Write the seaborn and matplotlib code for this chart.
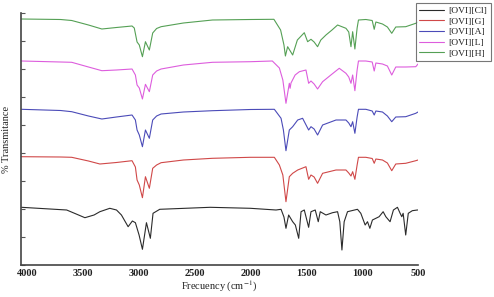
import matplotlib
matplotlib.use("Agg")
import matplotlib.pyplot as plt
import seaborn as sns
import pandas as pd
from matplotlib.lines import Line2D

# Series names (legend order) and colours
series_names = ["[OVI][Cl]", "[OVI][G]", "[OVI][A]", "[OVI][L]", "[OVI][H]"]
series_colors = ["#2b2b2b", "#d04848", "#4b4bb8", "#dd5ddd", "#55a055"]

# x tick values
x_ticks = [4000, 3500, 3000, 2500, 2000, 1500, 1000, 500]

# Spectra (wavenumber, offset transmittance in arbitrary units)
wn_H = [4050, 3700, 3600, 3450, 3330, 3200, 3060, 3040, 3015, 2995, 2967, 2940, 2905, 2875, 2840, 2800,
        2600, 2340, 2000, 1790, 1730, 1700, 1687, 1667, 1622, 1580, 1518, 1488, 1458, 1430, 1399, 1370,
        1324, 1270, 1220, 1145, 1120, 1100, 1085, 1065, 1045, 1033, 967, 910, 892, 877, 818, 774, 735,
        699, 610, 520, 500]
t_H = [246, 245.5, 244.5, 240, 236, 237.5, 239, 237, 223, 220, 208.3, 223.3, 215, 232, 236.5, 238.3,
       242, 245, 245.5, 245.7, 235, 220, 209, 218.3, 210, 225, 232.3, 223.3, 225.7, 223, 218.3, 225,
       230, 235, 240, 236.7, 233, 218.3, 233.3, 216, 237, 245, 245.5, 244.5, 235.7, 243, 241, 238, 231.7,
       238, 238.3, 241.7, 243]

wn_L = [4050, 3700, 3600, 3450, 3330, 3200, 3060, 3030, 3015, 2995, 2967, 2940, 2905, 2875, 2840, 2800,
        2600, 2340, 2000, 1804, 1741, 1710, 1682, 1652, 1645, 1637, 1600, 1562, 1503, 1479, 1458, 1430,
        1399, 1354, 1280, 1205, 1145, 1120, 1100, 1085, 1065, 1045, 1033, 967, 910, 892, 877, 818, 774,
        735, 699, 610, 520, 500]
t_L = [204, 203, 202.7, 198, 194.3, 195, 196, 190, 180, 177, 166, 180.7, 173.3, 190, 194, 196,
       200, 202.7, 203.3, 204, 197, 185, 161.7, 181.7, 176.7, 182, 190, 193.3, 195, 181.7, 184, 181,
       176, 183.3, 190, 196.7, 191.7, 188, 181.7, 190, 174.3, 195, 204, 204, 203, 194, 202, 201, 199,
       190, 198, 198, 198.3, 201]

wn_A = [4050, 3700, 3600, 3450, 3330, 3200, 3060, 3030, 3015, 2995, 2967, 2940, 2905, 2875, 2840, 2800,
        2600, 2340, 2000, 1786, 1726, 1705, 1682, 1652, 1622, 1577, 1533, 1479, 1458, 1430, 1399, 1354,
        1234, 1145, 1120, 1100, 1085, 1065, 1045, 1033, 967, 910, 892, 877, 818, 774, 735, 699, 610,
        520, 500]
t_A = [155.7, 154.5, 153.3, 149, 146, 148, 150, 145, 135, 130, 118.3, 135, 126.7, 145, 149, 151,
       153, 154.3, 155.5, 155.7, 146.7, 135, 114.3, 135, 138.3, 145, 146.7, 135, 138.3, 136, 130, 140,
       145, 145, 142, 138.3, 143.3, 131.7, 148, 155.7, 155.7, 154, 150, 154, 153, 149, 143.3, 148, 148.3,
       151.7, 153]

wn_G = [4050, 3700, 3600, 3450, 3348, 3200, 3060, 3030, 3015, 2995, 2967, 2940, 2905, 2875, 2840, 2800,
        2600, 2340, 2000, 1786, 1741, 1710, 1682, 1652, 1622, 1577, 1503, 1479, 1458, 1430, 1399, 1354,
        1234, 1145, 1120, 1100, 1085, 1065, 1045, 1033, 967, 910, 892, 877, 818, 774, 735, 699, 610,
        520, 500]
t_G = [108.3, 108, 107.7, 104, 101, 102.5, 104.3, 98, 85, 80, 67.3, 88.3, 76.7, 96.7, 100, 102.3,
       105, 106.7, 107.7, 107.7, 100, 90, 63.3, 88.3, 91.7, 95, 98.3, 85.7, 90, 88, 81.7, 91.7,
       95, 95, 92, 89, 93.3, 85.7, 100, 107.7, 107.7, 106.5, 101.7, 106, 105, 102, 94.3, 101, 101.7,
       104.3, 105]

wn_Cl = [4050, 3645, 3560, 3482, 3400, 3348, 3259, 3199, 3155, 3095, 3057, 3030, 2997, 2967, 2931, 2896,
         2872, 2812, 2360, 2000, 1771, 1726, 1700, 1682, 1658, 1622, 1598, 1568, 1547, 1518, 1479, 1458,
         1420, 1393, 1375, 1324, 1265, 1220, 1200, 1181, 1161, 1131, 1042, 1012, 973, 952, 931, 908,
         848, 812, 788, 750, 720, 684, 660, 645, 633, 610, 587, 551, 506, 500]
t_Cl = [57.7, 55, 51, 47.3, 50, 53.3, 56.7, 55, 50, 38.3, 44, 42.3, 30, 15.7, 42.3, 26.7,
        51.7, 55.7, 57.7, 56.7, 55, 55.7, 48, 36.7, 50, 43.3, 40, 26.7, 53.3, 55, 37.7, 53.3,
        55, 43.3, 53.3, 50, 52.3, 53.3, 43.3, 15, 43.3, 53.3, 55.7, 51.7, 40, 43.3, 36.7, 45,
        48.3, 53.3, 48.3, 43.3, 55, 57.7, 51.7, 48.3, 51.7, 30, 51.7, 54.3, 55, 55]

spectra = {
    "[OVI][Cl]": (wn_Cl, t_Cl),
    "[OVI][G]": (wn_G, t_G),
    "[OVI][A]": (wn_A, t_A),
    "[OVI][L]": (wn_L, t_L),
    "[OVI][H]": (wn_H, t_H),
}

frames = []
for name in series_names:
    wn, t = spectra[name]
    frames.append(pd.DataFrame({"wn": wn, "t": t, "sample": name}))
df = pd.concat(frames, ignore_index=True)

sns.set_theme(style="white")
plt.rcParams["font.family"] = ["Liberation Serif", "DejaVu Serif"]
plt.rcParams["mathtext.fontset"] = "stix"

fig = plt.figure(figsize=(4.94, 2.97), dpi=100)
ax = fig.add_axes([21 / 494, 32 / 297, 397 / 494, 252 / 297])

palette = dict(zip(series_names, series_colors))
sns.lineplot(data=df, x="wn", y="t", hue="sample", palette=palette, estimator=None,
             sort=True, linewidth=0.8, ax=ax, legend=False)

ax.set_xlim(4054, 500)
ax.set_ylim(0, 252)
ax.set_xticks(x_ticks)
ax.set_xticklabels([str(v) for v in x_ticks], fontsize=7.5, fontweight="bold")
ax.set_yticks(range(0, 253, 28))
ax.set_yticklabels([])
ax.tick_params(axis="y", direction="in", length=3, width=0.8, color="#555555", left=True)
ax.tick_params(axis="x", direction="in", length=0, pad=3, colors="#222222")

for side in ["top", "right"]:
    ax.spines[side].set_visible(False)
for side in ["left", "bottom"]:
    ax.spines[side].set_color("#444444")
    ax.spines[side].set_linewidth(1.2)

ax.set_xlabel("Frecuency (cm$^{-1}$)", fontsize=7.5, color="#222222", labelpad=0.5)
ax.set_ylabel("% Transmitance", fontsize=7.5, color="#222222", labelpad=4)

handles = [Line2D([0], [0], color=palette[n], lw=0.8) for n in series_names]
leg = ax.legend(handles, series_names, loc="upper left", bbox_to_anchor=(0.995, 1.04),
                fontsize=6.8, frameon=True, fancybox=False, edgecolor="#555555",
                handlelength=2.6, handletextpad=0.5, labelspacing=0.22, borderpad=0.35,
                borderaxespad=0)
leg.get_frame().set_linewidth(0.8)
for txt in leg.get_texts():
    txt.set_color("#222222")

fig.savefig("out.png", dpi=100)
